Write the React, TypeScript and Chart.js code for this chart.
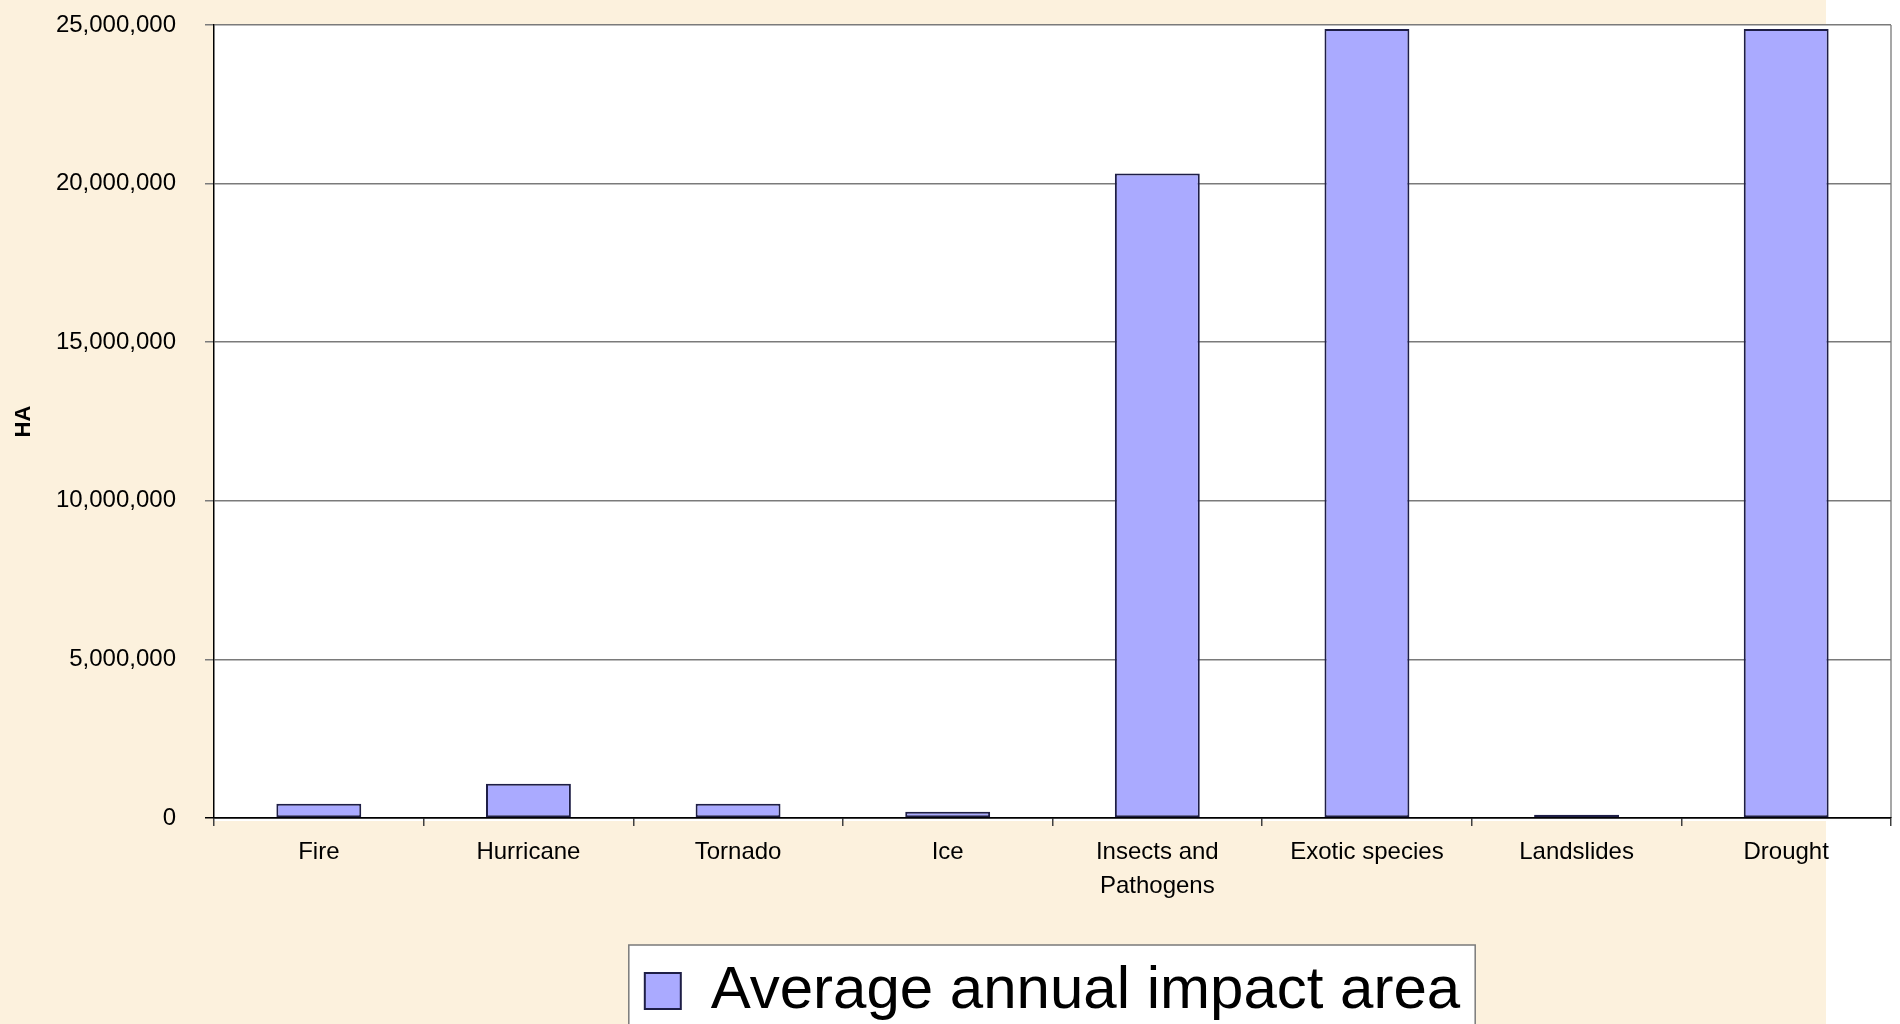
import { useEffect, useRef } from "react";
import { Chart, registerables } from "chart.js";

Chart.register(...registerables);

// Disturbance categories (multi-line labels are arrays)
const categories: (string | string[])[] = [
  "Fire",
  "Hurricane",
  "Tornado",
  "Ice",
  ["Insects and", "Pathogens"],
  "Exotic species",
  "Landslides",
  "Drought",
];

// Average annual impact area, hectares
const impactArea = [450000, 1080000, 450000, 200000, 20320000, 24870000, 100000, 24870000];

const seriesLabel = "Average annual impact area";
const yAxisTitle = "HA";
const yMin = 0;
const yMax = 25000000;
const yStep = 5000000;

const FONT = '"Liberation Sans", Arial, sans-serif';
const PARCHMENT = "#FCF1DD";
const PARCHMENT_WIDTH = 1826;

const backdrop = {
  id: "backdrop",
  beforeDraw(chart: any) {
    const { ctx, chartArea: a, width, height } = chart;
    ctx.save();
    ctx.fillStyle = "#ffffff";
    ctx.fillRect(0, 0, width, height);
    ctx.fillStyle = PARCHMENT;
    ctx.fillRect(0, 0, PARCHMENT_WIDTH, height);

    // white plot area with a thin grey right edge
    ctx.fillStyle = "#ffffff";
    ctx.fillRect(a.left, a.top, a.right - a.left, a.bottom - a.top + 3);
    ctx.strokeStyle = "#8a8a8a";
    ctx.lineWidth = 1.5;
    ctx.beginPath();
    ctx.moveTo(a.right, a.top);
    ctx.lineTo(a.right, a.bottom);
    ctx.stroke();

    // framed legend panel
    const hb = chart.legend && chart.legend.legendHitBoxes && chart.legend.legendHitBoxes[0];
    if (hb) {
      const x = hb.left - 16;
      const y = hb.top - 16;
      const w = hb.width + 31;
      const h = height - y + 20;
      ctx.fillStyle = "#ffffff";
      ctx.fillRect(x, y, w, h);
      ctx.strokeStyle = "#7a7a7a";
      ctx.lineWidth = 1.5;
      ctx.strokeRect(x, y, w, h);
    }
    ctx.restore();
  },
};

export default function App() {
  const canvasRef = useRef<HTMLCanvasElement | null>(null);

  useEffect(() => {
    const canvas = canvasRef.current;
    if (!canvas) return;
    const chart = new Chart(canvas, {
      type: "bar",
      data: {
        labels: categories,
        datasets: [
          {
            label: seriesLabel,
            data: impactArea,
            backgroundColor: "#AAAAFF",
            borderColor: "#1E1E46",
            borderWidth: 2,
            borderSkipped: false,
            barPercentage: 0.405,
            categoryPercentage: 1.0,
          },
        ],
      },
      plugins: [backdrop],
      options: {
        responsive: false,
        animation: false,
        devicePixelRatio: 1,
        layout: { padding: { top: 25, right: 9, left: 0, bottom: 0 } },
        plugins: {
          tooltip: { enabled: false },
          legend: {
            display: true,
            position: "bottom",
            fullSize: false,
            labels: {
              color: "#000000",
              font: { family: FONT, size: 60 },
              boxWidth: 36,
              boxHeight: 36,
              padding: 10,
            },
          },
        },
        scales: {
          x: {
            grid: {
              display: true,
              drawOnChartArea: false,
              drawTicks: true,
              tickLength: 8,
              color: "#404040",
              lineWidth: 1.5,
            },
            border: { display: true, color: "#000000", width: 1.5 },
            ticks: {
              color: "#000000",
              padding: 9,
              maxRotation: 0,
              autoSkip: false,
              font: { family: FONT, size: 24, lineHeight: 1.42 },
            },
            afterFit(scale: any) {
              scale.height = 133;
            },
          },
          y: {
            min: yMin,
            max: yMax,
            title: {
              display: true,
              text: yAxisTitle,
              color: "#000000",
              font: { family: FONT, size: 22, weight: "bold" },
              padding: { top: 11, bottom: 0 },
            },
            grid: {
              display: true,
              drawTicks: true,
              tickLength: 9,
              lineWidth: 1.5,
              color: (ctx: any) => (ctx.tick && ctx.tick.value === 0 ? "#000000" : "#7a7a7a"),
            },
            border: { display: true, color: "#000000", width: 1.5 },
            ticks: {
              stepSize: yStep,
              color: "#000000",
              padding: 29,
              font: { family: FONT, size: 24 },
              callback: (v: any) => Number(v).toLocaleString("en-US"),
            },
            afterFit(scale: any) {
              scale.width = 214;
              scale.paddingTop = 0;
              scale.paddingBottom = 0;
            },
          },
        },
      },
    } as any);
    return () => chart.destroy();
  }, []);

  return (
    <div
      style={{
        position: "fixed",
        left: 0,
        top: 0,
        width: 1900,
        height: 1024,
        overflow: "hidden",
        background: "#ffffff",
      }}
    >
      <canvas ref={canvasRef} width={1900} height={1031} style={{ display: "block" }} />
    </div>
  );
}
